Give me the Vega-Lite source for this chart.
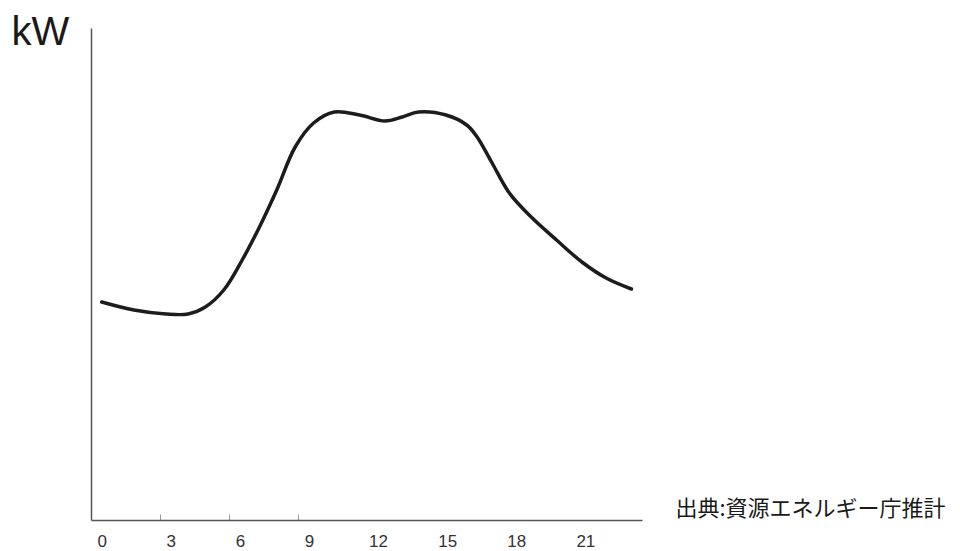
{
  "$schema": "https://vega.github.io/schema/vega-lite/v6.json",
  "width": 551,
  "height": 492,
  "autosize": {"type": "none"},
  "padding": {"left": 91, "top": 28, "right": 318, "bottom": 31},
  "background": "white",
  "config": {"view": {"stroke": null}},
  "data": {
    "values": [
      {"hour": 0, "kw": 218},
      {"hour": 1.4, "kw": 210},
      {"hour": 2.8, "kw": 206},
      {"hour": 3.75, "kw": 206},
      {"hour": 4.5, "kw": 213},
      {"hour": 5.3, "kw": 230},
      {"hour": 6.1, "kw": 260},
      {"hour": 6.85, "kw": 293},
      {"hour": 7.6, "kw": 330},
      {"hour": 8.4, "kw": 373},
      {"hour": 9.2, "kw": 397},
      {"hour": 10.1, "kw": 408},
      {"hour": 11.2, "kw": 405},
      {"hour": 12.3, "kw": 399},
      {"hour": 13.05, "kw": 403},
      {"hour": 13.75, "kw": 408},
      {"hour": 14.95, "kw": 405},
      {"hour": 15.85, "kw": 395},
      {"hour": 16.3, "kw": 383},
      {"hour": 16.95, "kw": 357},
      {"hour": 17.7, "kw": 327},
      {"hour": 18.65, "kw": 303},
      {"hour": 19.75, "kw": 280},
      {"hour": 20.85, "kw": 258},
      {"hour": 21.9, "kw": 242},
      {"hour": 23.0, "kw": 231}
    ]
  },
  "mark": {"type": "line", "interpolate": "catmull-rom", "color": "#1c1c1c", "strokeWidth": 3.5, "strokeCap": "round", "clip": false},
  "encoding": {
    "x": {
      "field": "hour",
      "type": "quantitative",
      "scale": {"domain": [-0.465, 23.46], "nice": false, "zero": false},
      "axis": {
        "values": [0, 3, 6, 9, 12, 15, 18, 21],
        "grid": false,
        "domainColor": "#555",
        "domainWidth": 1.5,
        "ticks": true,
        "tickSize": -6,
        "tickColor": "#999",
        "tickWidth": 1,
        "tickOffset": -11,
        "tickOpacity": {"condition": {"test": "datum.value > 0 && datum.value <= 9", "value": 1}, "value": 0},
        "labelOffset": 11,
        "labelPadding": 19,
        "labelFont": "Liberation Sans",
        "labelFontSize": 17,
        "labelColor": "#333",
        "labelFlush": false,
        "title": "出典:資源エネルギー庁推計",
        "titleFont": "Noto Sans CJK JP",
        "titleFontSize": 22,
        "titleFontWeight": "normal",
        "titleColor": "#1a1a1a",
        "titleAlign": "left",
        "titleBaseline": "middle",
        "titleAnchor": null,
        "titleX": 584,
        "titleY": -12
      }
    },
    "y": {
      "field": "kw",
      "type": "quantitative",
      "scale": {"domain": [0, 492], "nice": false},
      "axis": {
        "grid": false,
        "ticks": false,
        "labels": false,
        "domainColor": "#555",
        "domainWidth": 1.5,
        "title": "kW",
        "titleFont": "Liberation Sans",
        "titleFontSize": 40,
        "titleFontWeight": "normal",
        "titleColor": "#1a1a1a",
        "titleAngle": 0,
        "titleAlign": "left",
        "titleBaseline": "alphabetic",
        "titleX": -80,
        "titleY": 16
      }
    }
  }
}
